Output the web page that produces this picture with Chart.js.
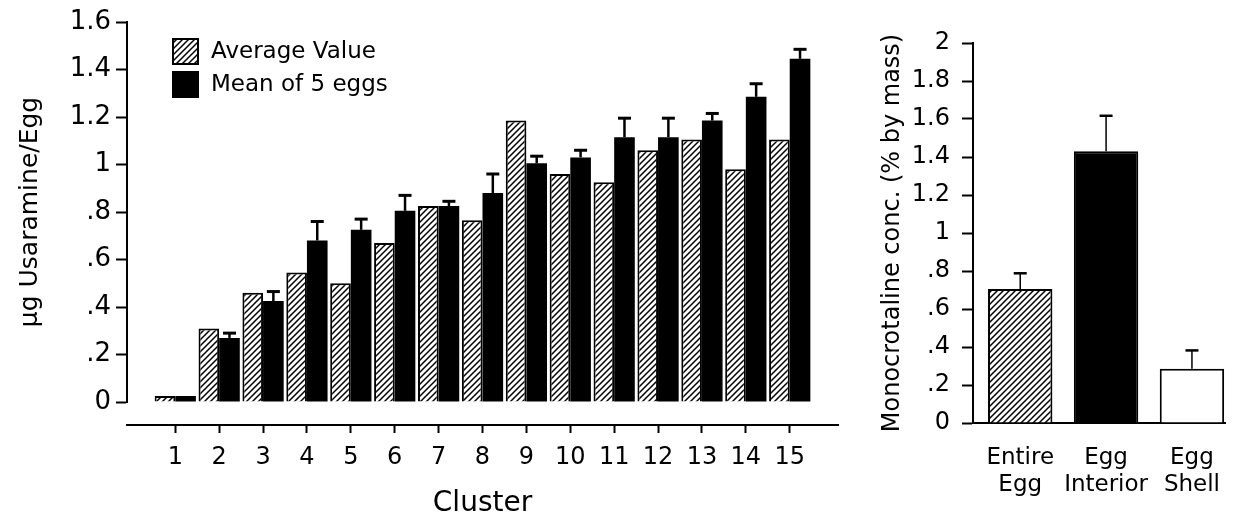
<!DOCTYPE html>
<html>
<head>
<meta charset="utf-8">
<script src="https://cdn.jsdelivr.net/npm/chart.js@4.4.1/dist/chart.umd.min.js"></script>
<style>
  html, body { margin:0; padding:0; background:#fff; }
  #wrap { position:relative; width:1241px; height:515px; }
  #left  { position:absolute; left:0;   top:0; }
  #right { position:absolute; left:850px; top:0; }
</style>
</head>
<body>
<div id="wrap">
  <canvas id="left"  width="850" height="515"></canvas>
  <canvas id="right" width="391" height="515"></canvas>
</div>
<script>
// left panel: usaramine per egg by cluster
const CLUSTERS     = [1, 2, 3, 4, 5, 6, 7, 8, 9, 10, 11, 12, 13, 14, 15];
const AVG_VALUE    = [0, 0.31, 0.46, 0.545, 0.50, 0.67, 0.825, 0.765, 1.185, 0.96, 0.925, 1.06, 1.105, 0.98, 1.105];
const MEAN_5_EGGS  = [0, 0.27, 0.425, 0.68, 0.725, 0.805, 0.825, 0.88, 1.005, 1.03, 1.115, 1.115, 1.185, 1.285, 1.445];
const MEAN_ERR     = [0, 0.02, 0.04, 0.08, 0.045, 0.065, 0.02, 0.08, 0.03, 0.03, 0.08, 0.08, 0.03, 0.055, 0.04];
const Y_LABELS_LEFT = ['0', '.2', '.4', '.6', '.8', '1', '1.2', '1.4', '1.6'];

// right panel: monocrotaline concentration
const PARTS    = [['Entire', 'Egg'], ['Egg', 'Interior'], ['Egg', 'Shell']];
const CONC     = [0.705, 1.43, 0.285];
const CONC_ERR = [0.083, 0.187, 0.097];
const Y_LABELS_RIGHT = ['0', '.2', '.4', '.6', '.8', '1', '1.2', '1.4', '1.6', '1.8', '2'];

Chart.defaults.font.family = '"DejaVu Sans", sans-serif';
Chart.defaults.color = '#000';

function hatch(){
  const c = document.createElement('canvas');
  c.width = c.height = 6;
  const g = c.getContext('2d');
  g.fillStyle = '#fff'; g.fillRect(0, 0, 6, 6);
  g.strokeStyle = '#000'; g.lineWidth = 1.5;
  g.beginPath();
  g.moveTo(-1, 7); g.lineTo(7, -1);
  g.moveTo(-1, 1); g.lineTo(1, -1);
  g.moveTo(5, 7);  g.lineTo(7, 5);
  g.stroke();
  return g.createPattern(c, 'repeat');
}
const HATCH = hatch();

const errorBars = {
  id: 'errorBars',
  afterDatasetsDraw(chart, args, o){
    const ctx = chart.ctx, ys = chart.scales.y;
    chart.data.datasets.forEach((ds, di) => {
      if (!ds.errors) return;
      chart.getDatasetMeta(di).data.forEach((bar, i) => {
        const e = ds.errors[i];
        if (!e) return;
        const top = ys.getPixelForValue(ds.data[i].y + e);
        ctx.save();
        ctx.strokeStyle = '#000';
        ctx.lineWidth = o.width;
        ctx.beginPath(); ctx.moveTo(bar.x, bar.y); ctx.lineTo(bar.x, top); ctx.stroke();
        ctx.lineWidth = o.capWidth;
        ctx.beginPath(); ctx.moveTo(bar.x - o.cap / 2, top); ctx.lineTo(bar.x + o.cap / 2, top); ctx.stroke();
        ctx.restore();
      });
    });
  }
};

const boxLegend = {
  id: 'boxLegend',
  afterDraw(chart, args, o){
    const ctx = chart.ctx;
    chart.data.datasets.forEach((ds, i) => {
      const y = o.top + i * o.gap;
      ctx.save();
      ctx.fillStyle = ds.backgroundColor;
      ctx.fillRect(o.left, y, o.box, o.box);
      ctx.strokeStyle = '#000'; ctx.lineWidth = 2;
      ctx.strokeRect(o.left + 1, y + 1, o.box - 2, o.box - 2);
      ctx.fillStyle = '#000';
      ctx.font = o.font;
      ctx.textBaseline = 'middle';
      ctx.fillText(ds.label, o.left + o.box + 12, y + o.box / 2 + 1);
      ctx.restore();
    });
  }
};

const pts = (xs, ys) => xs.map((x, i) => ({ x: x, y: ys[i] }));

new Chart(document.getElementById('left'), {
  type: 'bar',
  data: {
    datasets: [
      { label: 'Average Value', data: pts(CLUSTERS, AVG_VALUE),
        backgroundColor: HATCH, borderColor: '#000', borderWidth: 2, minBarLength: 6 },
      { label: 'Mean of 5 eggs', data: pts(CLUSTERS, MEAN_5_EGGS), errors: MEAN_ERR,
        backgroundColor: '#000', borderColor: '#000', borderWidth: 0, minBarLength: 6 }
    ]
  },
  options: {
    responsive: false, animation: false, devicePixelRatio: 1,
    layout: { padding: { left: 0, top: 22, right: 12, bottom: 113 } },
    datasets: { bar: { categoryPercentage: 0.94, barPercentage: 1 } },
    plugins: {
      legend: { display: false }, tooltip: { enabled: false },
      errorBars: { width: 2.5, capWidth: 3, cap: 13 },
      boxLegend: { left: 172, top: 38, gap: 33, box: 27, font: '23px "DejaVu Sans"' }
    },
    scales: {
      x: {
        type: 'linear', min: -0.1, max: 16.1, offset: false,
        position: { y: -0.097 },
        afterBuildTicks: s => { s.ticks = CLUSTERS.map(v => ({ value: v })); },
        ticks: { autoSkip: false, maxRotation: 0, padding: 11, font: { size: 24 }, callback: v => String(v) },
        grid: { offset: false, drawOnChartArea: false, tickLength: 7, tickWidth: 2, tickColor: '#000' },
        border: { display: true, width: 2, color: '#000' },
        title: { display: true, text: 'Cluster', font: { size: 28 }, padding: { top: 4, bottom: 0 } }
      },
      y: {
        min: 0, max: 1.6,
        afterFit: s => { s.width = 127; },
        ticks: { stepSize: 0.1, padding: 5, font: { size: 26 },
                 callback: (v, i) => i % 2 ? '' : Y_LABELS_LEFT[i / 2] },
        grid: { drawOnChartArea: false, tickLength: 11, tickWidth: 2, tickColor: '#000' },
        border: { display: true, width: 2, color: '#000' },
        title: { display: true, text: 'µg Usaramine/Egg', font: { size: 25 }, padding: { top: 15, bottom: 0 } }
      }
    }
  },
  plugins: [errorBars, boxLegend]
});

new Chart(document.getElementById('right'), {
  type: 'bar',
  data: {
    datasets: [
      { label: 'Monocrotaline', data: pts([1, 2, 3], CONC), errors: CONC_ERR,
        backgroundColor: [HATCH, '#000', '#fff'], borderColor: '#000', borderWidth: 2 }
    ]
  },
  options: {
    responsive: false, animation: false, devicePixelRatio: 1,
    layout: { padding: { left: 0, top: 43, right: 0, bottom: 0 } },
    datasets: { bar: { categoryPercentage: 1, barPercentage: 0.75 } },
    plugins: {
      legend: { display: false }, tooltip: { enabled: false },
      errorBars: { width: 1.5, capWidth: 2.5, cap: 13 }
    },
    scales: {
      x: {
        type: 'linear', min: 0.45, max: 3.39, offset: false,
        afterFit: s => { s.height = 92; },
        afterBuildTicks: s => { s.ticks = PARTS.map((p, i) => ({ value: i + 1 })); },
        ticks: { autoSkip: false, maxRotation: 0, padding: 21, font: { size: 23 },
                 callback: v => PARTS[v - 1] },
        grid: { offset: false, drawOnChartArea: false, drawTicks: false },
        border: { display: true, width: 2, color: '#000' }
      },
      y: {
        min: 0, max: 2,
        afterFit: s => { s.width = 123; },
        ticks: { stepSize: 0.2, padding: 12, font: { size: 24 },
                 callback: (v, i) => Y_LABELS_RIGHT[i] },
        grid: { drawOnChartArea: false, tickLength: 11, tickWidth: 2, tickColor: '#000' },
        border: { display: true, width: 2, color: '#000' },
        title: { display: true, text: 'Monocrotaline conc. (% by mass)', font: { size: 24 }, padding: { top: 28, bottom: 0 } }
      }
    }
  },
  plugins: [errorBars]
});
</script>
</body>
</html>
